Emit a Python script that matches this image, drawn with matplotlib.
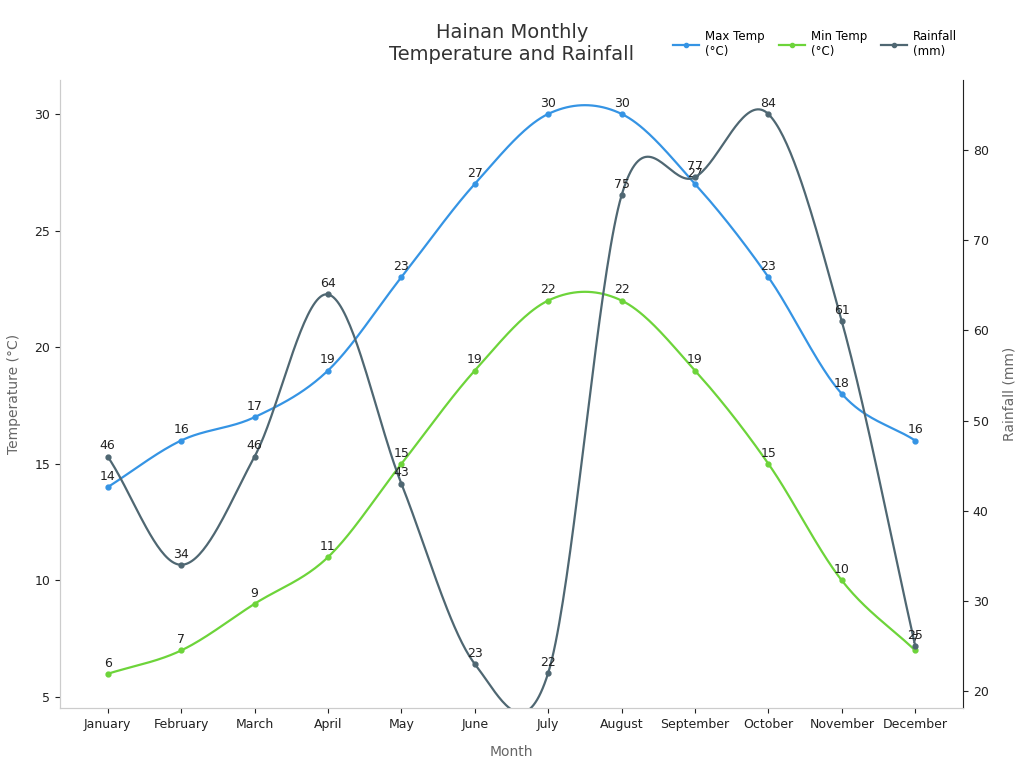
import numpy as np
import matplotlib
matplotlib.use("Agg")
import matplotlib.pyplot as plt

months = ["January","February","March","April","May","June","July","August","September","October","November","December"]
max_temp = [14,16,17,19,23,27,30,30,27,23,18,16]
min_temp = [6,7,9,11,15,19,22,22,19,15,10,7]
rainfall = [46,34,46,64,43,23,22,75,77,84,61,25]

def catmull(x, y, n=40):
    x = np.asarray(x, float); y = np.asarray(y, float)
    k = len(y)
    m = np.zeros(k)
    m[1:-1] = (y[2:] - y[:-2]) / 2
    m[0] = y[1] - y[0]; m[-1] = y[-1] - y[-2]
    xs_all, ys_all = [], []
    for i in range(k - 1):
        t = np.linspace(0, 1, n, endpoint=(i == k - 2))
        h00 = 2*t**3 - 3*t**2 + 1; h10 = t**3 - 2*t**2 + t
        h01 = -2*t**3 + 3*t**2; h11 = t**3 - t**2
        xs_all.append(x[i] + t)
        ys_all.append(h00*y[i] + h10*m[i] + h01*y[i+1] + h11*m[i+1])
    return np.concatenate(xs_all), np.concatenate(ys_all)

blue, green, slate = "#3594e4", "#6dd43a", "#4f6772"
fig = plt.figure(figsize=(10.24, 7.68), dpi=100)
ax = fig.add_axes([0.0586, 0.078, 0.8818, 0.818])
ax2 = ax.twinx()
x = np.arange(len(months))

for a, vals, col in [(ax, max_temp, blue), (ax, min_temp, green), (ax2, rainfall, slate)]:
    xs, ys = catmull(x, vals)
    a.plot(xs, ys, color=col, lw=1.6)
    a.plot(x, vals, 'o', color=col, ms=3.5)
    for xi, v in zip(x, vals):
        a.annotate(str(v), (xi, v), xytext=(0, 3), textcoords="offset points", ha="center", va="bottom", fontsize=9, color="#222222")

ax.set_ylim(4.53, 31.46)
ax2.set_ylim(18.1, 87.8)
ax.set_xlim(-0.65, 11.65)
ax.set_yticks([5,10,15,20,25,30])
ax2.set_yticks([20,30,40,50,60,70,80])
ax.set_xticks(x)
ax.set_xticklabels(months)
for a in (ax, ax2):
    a.tick_params(labelsize=9, colors="#222222")
    a.spines["top"].set_visible(False)
    for s in a.spines.values():
        s.set_color("#cccccc")
ax2.spines["right"].set_color("#222222")
ax.set_ylabel("Temperature (°C)", color="#666666", fontsize=10, labelpad=10)
ax2.set_ylabel("Rainfall (mm)", color="#666666", fontsize=10, labelpad=10)
ax.set_xlabel("Month", color="#666666", fontsize=10, labelpad=10)
fig.text(0.5, 0.917, "Hainan Monthly\nTemperature and Rainfall", ha="center", va="bottom", fontsize=14, color="#333333")

from matplotlib.lines import Line2D
handles = [Line2D([], [], color=c, marker='o', ms=3, lw=1.6) for c in (blue, green, slate)]
fig.legend(handles, ["Max Temp\n(°C)", "Min Temp\n(°C)", "Rainfall\n(mm)"], loc="upper right", bbox_to_anchor=(0.945, 0.975), ncol=3, frameon=False, fontsize=8.5, handlelength=2.2, handletextpad=0.5, columnspacing=1.2)
fig.savefig("out.png", dpi=100)
